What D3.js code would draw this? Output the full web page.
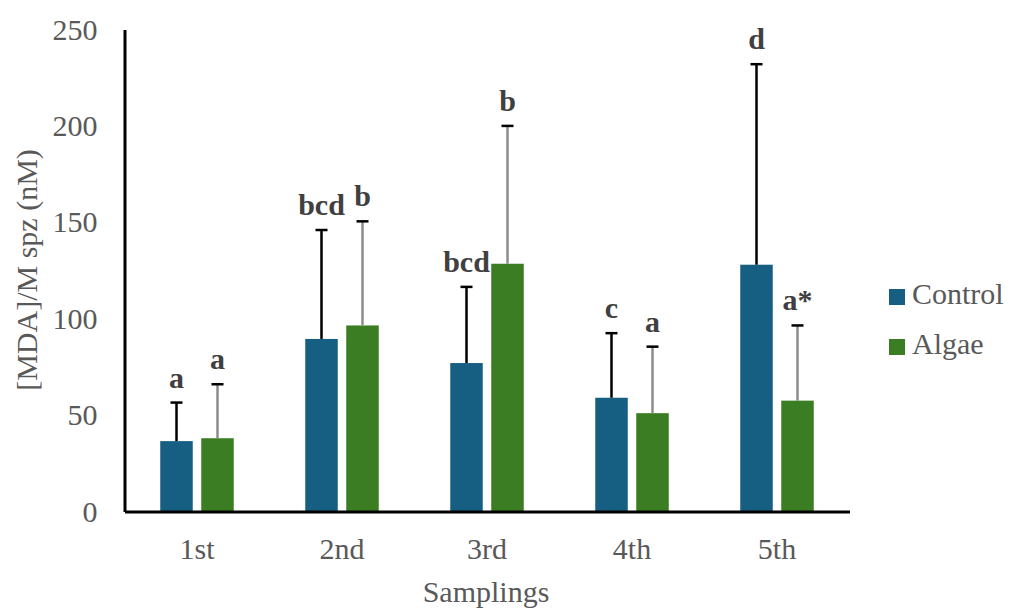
<!DOCTYPE html>
<html><head><meta charset="utf-8">
<script src="https://cdn.jsdelivr.net/npm/d3@7"></script>
<style>body{margin:0;background:#fff}svg{display:block}
svg text{font-family:"Liberation Serif","Times New Roman",Tinos,"DejaVu Serif",serif !important;}
</style>
</head><body>
<svg id="c" width="1011" height="608"></svg>
<script>
const categories = ["1st","2nd","3rd","4th","5th"];
const seriesNames = ["Control","Algae"];
const control = [36.5, 89.5, 77, 59, 128];
const controlSD = [20, 56.5, 39.5, 33.5, 104];
const algae = [38, 96.5, 128.5, 51, 57.5];
const algaeSD = [28, 54, 71.5, 34.5, 39];
const controlLetters = ["a","bcd","bcd","c","d"];
const algaeLetters = ["a","b","b","a","a*"];
const yTicks = [0,50,100,150,200,250];
const colors = ["#175e83","#3b7d23"];

const svg = d3.select("#c");
const x0 = d3.scaleBand().domain(categories).range([124.5, 849.5]).padding(0);
const y = d3.scaleLinear().domain([0,250]).range([511.5, 29.5]);
const barW = 32.5, gap = 8.5;

const series = [
  {name:seriesNames[0], vals:control, sd:controlSD, letters:controlLetters, color:colors[0], err:"#000"},
  {name:seriesNames[1], vals:algae, sd:algaeSD, letters:algaeLetters, color:colors[1], err:"#8c8c8c"}
];

function barX(i, s){
  const c = x0(categories[i]) + x0.bandwidth()/2;
  return c - (barW*2+gap)/2 + s*(barW+gap);
}

series.forEach((s, si) => {
  const g = svg.append("g");
  s.vals.forEach((v,i) => {
    const bx = barX(i, si);
    const cx = bx + barW/2;
    g.append("rect").attr("x", bx).attr("y", y(v)).attr("width", barW)
      .attr("height", y(0)-y(v)).attr("fill", s.color);
    const top = y(v + s.sd[i]);
    g.append("line").attr("x1",cx).attr("x2",cx).attr("y1",y(v)).attr("y2",top)
      .attr("stroke", s.err).attr("stroke-width", 2.5);
    g.append("line").attr("x1",cx-6).attr("x2",cx+6).attr("y1",top).attr("y2",top)
      .attr("stroke","#000").attr("stroke-width",2.5);
    g.append("text").attr("x", cx).attr("y", top-15).attr("text-anchor","middle")
      .attr("font-weight","bold").attr("font-size",30)
      .attr("fill","#404040").text(s.letters[i]);
  });
});

const yAxis = svg.append("g").attr("transform","translate(124.5,0)")
  .call(d3.axisLeft(y).tickValues(yTicks).tickSize(0).tickPadding(27));
yAxis.select(".domain").attr("stroke","#000").attr("stroke-width",3);
yAxis.selectAll("text").attr("font-size",30).attr("fill","#595959");

const xAxis = svg.append("g").attr("transform","translate(0,511.5)")
  .call(d3.axisBottom(x0).tickSize(0).tickPadding(26));
xAxis.select(".domain").attr("stroke","#000").attr("stroke-width",3);
xAxis.selectAll("text").attr("font-size",30).attr("fill","#595959");

svg.append("text").attr("x", 486).attr("y", 602).attr("text-anchor","middle")
  .attr("font-size",30).attr("fill","#595959").text("Samplings");
svg.append("text").attr("transform","translate(37,270) rotate(-90)").attr("text-anchor","middle")
  .attr("font-size",30).attr("fill","#595959").text("[MDA]/M spz (nM)");

series.forEach((s, si) => {
  const ly = 289 + si*50;
  svg.append("rect").attr("x",889).attr("y",ly).attr("width",16).attr("height",16).attr("fill",s.color);
  svg.append("text").attr("x",912).attr("y",ly+15).attr("font-size",30)
    .attr("fill","#595959").text(s.name);
});
</script>
</body></html>
